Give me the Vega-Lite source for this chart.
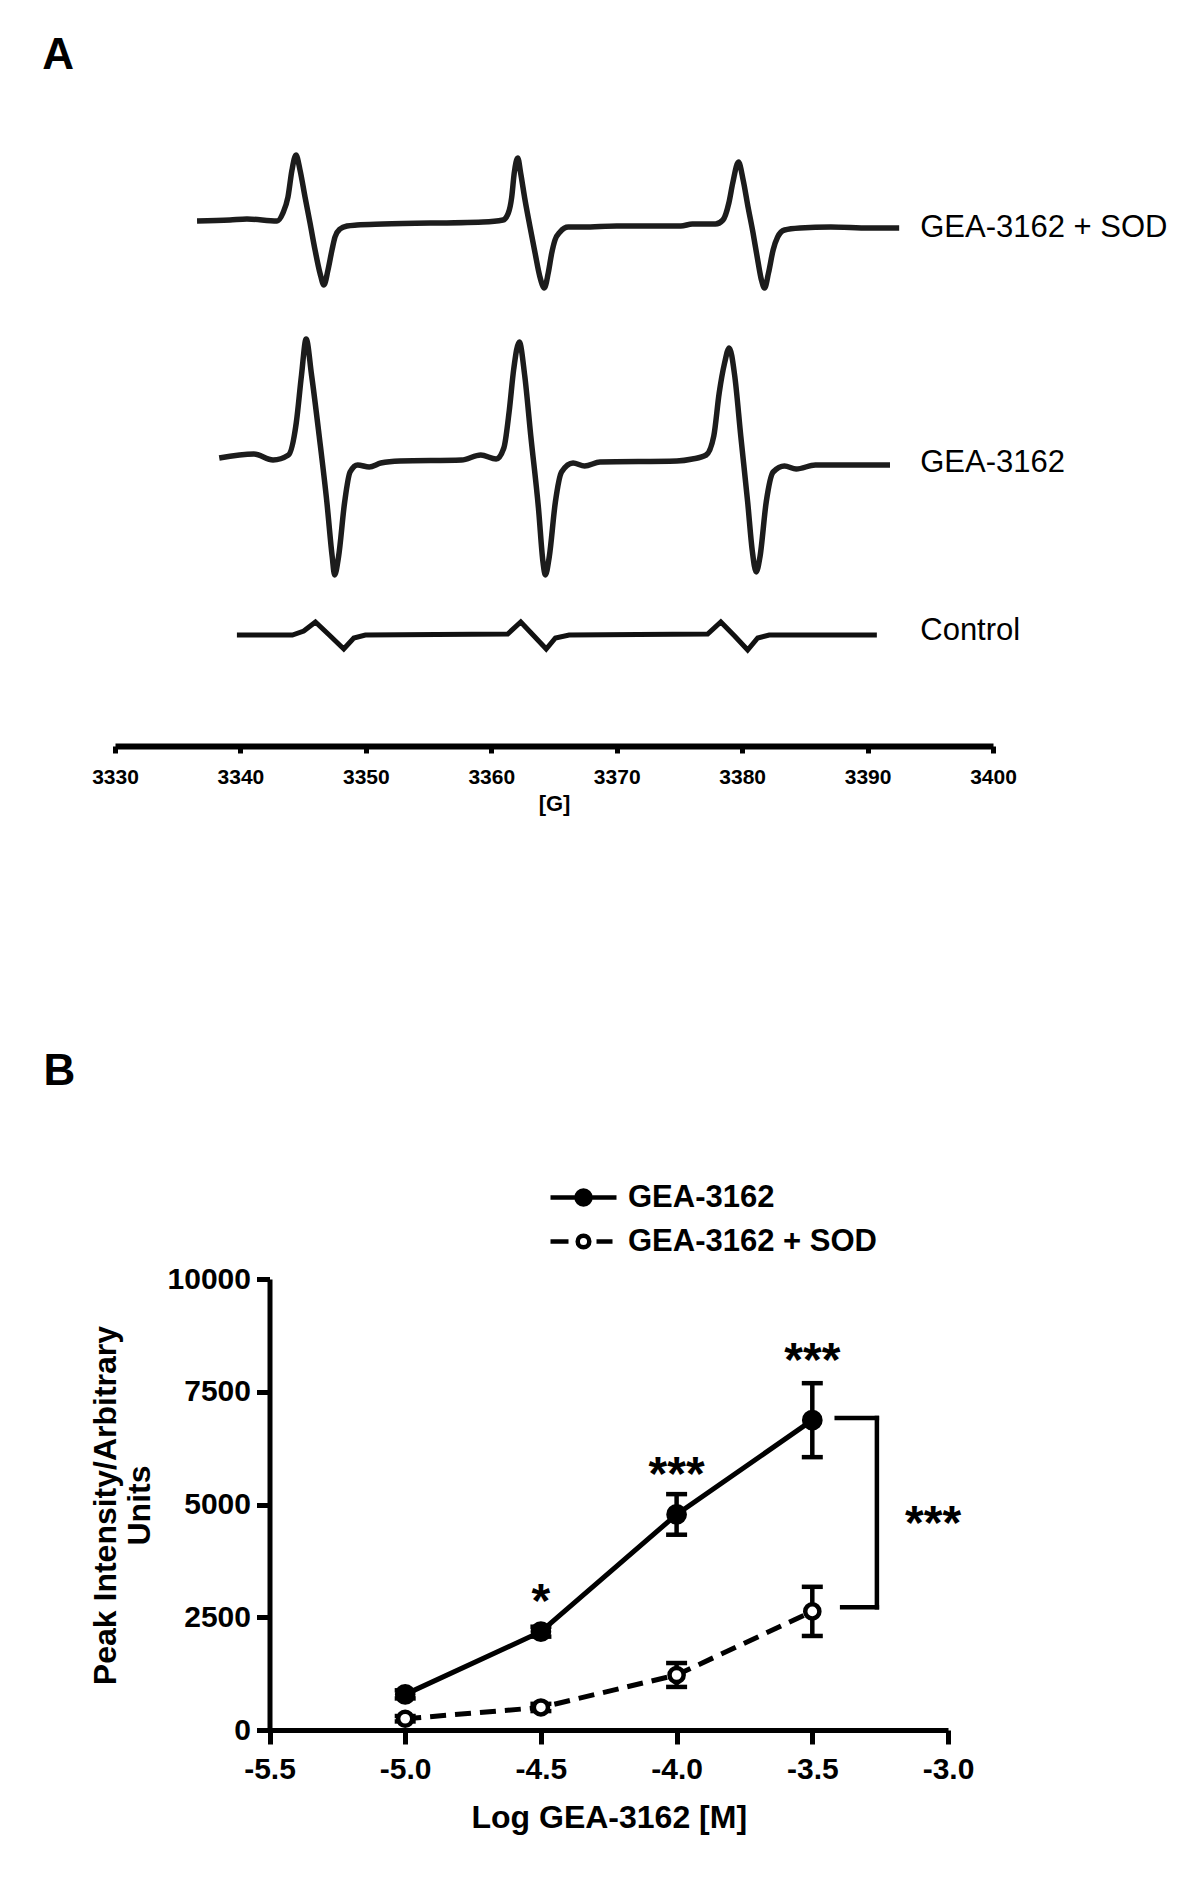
{
  "$schema": "https://vega.github.io/schema/vega-lite/v6.json",
  "width": 1200,
  "height": 1886,
  "autosize": {"type": "none"},
  "padding": 0,
  "background": "white",
  "config": {
    "view": {"stroke": null},
    "axis": {"grid": false, "domainColor": "black", "tickColor": "black", "labelColor": "black", "titleColor": "black"}
  },
  "datasets": {
    "epr": [
      {"trace": "GEA-3162 + SOD", "G": 3336.54, "v": 779},
      {"trace": "GEA-3162 + SOD", "G": 3339.17, "v": 780},
      {"trace": "GEA-3162 + SOD", "G": 3340.52, "v": 781},
      {"trace": "GEA-3162 + SOD", "G": 3342.92, "v": 779},
      {"trace": "GEA-3162 + SOD", "G": 3343.39, "v": 787},
      {"trace": "GEA-3162 + SOD", "G": 3343.79, "v": 803},
      {"trace": "GEA-3162 + SOD", "G": 3344.11, "v": 830},
      {"trace": "GEA-3162 + SOD", "G": 3344.43, "v": 845},
      {"trace": "GEA-3162 + SOD", "G": 3344.75, "v": 830},
      {"trace": "GEA-3162 + SOD", "G": 3345.15, "v": 803},
      {"trace": "GEA-3162 + SOD", "G": 3345.55, "v": 777},
      {"trace": "GEA-3162 + SOD", "G": 3345.95, "v": 750},
      {"trace": "GEA-3162 + SOD", "G": 3346.34, "v": 727},
      {"trace": "GEA-3162 + SOD", "G": 3346.66, "v": 715},
      {"trace": "GEA-3162 + SOD", "G": 3346.98, "v": 730},
      {"trace": "GEA-3162 + SOD", "G": 3347.30, "v": 750},
      {"trace": "GEA-3162 + SOD", "G": 3347.54, "v": 763},
      {"trace": "GEA-3162 + SOD", "G": 3347.94, "v": 771},
      {"trace": "GEA-3162 + SOD", "G": 3348.50, "v": 774},
      {"trace": "GEA-3162 + SOD", "G": 3349.29, "v": 775},
      {"trace": "GEA-3162 + SOD", "G": 3351.37, "v": 776},
      {"trace": "GEA-3162 + SOD", "G": 3359.34, "v": 778},
      {"trace": "GEA-3162 + SOD", "G": 3360.93, "v": 780},
      {"trace": "GEA-3162 + SOD", "G": 3361.36, "v": 787},
      {"trace": "GEA-3162 + SOD", "G": 3361.63, "v": 803},
      {"trace": "GEA-3162 + SOD", "G": 3361.83, "v": 827},
      {"trace": "GEA-3162 + SOD", "G": 3362.11, "v": 842},
      {"trace": "GEA-3162 + SOD", "G": 3362.34, "v": 827},
      {"trace": "GEA-3162 + SOD", "G": 3362.69, "v": 800},
      {"trace": "GEA-3162 + SOD", "G": 3363.09, "v": 773},
      {"trace": "GEA-3162 + SOD", "G": 3363.49, "v": 747},
      {"trace": "GEA-3162 + SOD", "G": 3363.88, "v": 723},
      {"trace": "GEA-3162 + SOD", "G": 3364.23, "v": 712},
      {"trace": "GEA-3162 + SOD", "G": 3364.54, "v": 727},
      {"trace": "GEA-3162 + SOD", "G": 3364.82, "v": 747},
      {"trace": "GEA-3162 + SOD", "G": 3365.08, "v": 760},
      {"trace": "GEA-3162 + SOD", "G": 3365.48, "v": 768},
      {"trace": "GEA-3162 + SOD", "G": 3366.14, "v": 773},
      {"trace": "GEA-3162 + SOD", "G": 3367.34, "v": 773},
      {"trace": "GEA-3162 + SOD", "G": 3370.00, "v": 774},
      {"trace": "GEA-3162 + SOD", "G": 3372.65, "v": 774},
      {"trace": "GEA-3162 + SOD", "G": 3375.11, "v": 774},
      {"trace": "GEA-3162 + SOD", "G": 3376.03, "v": 776},
      {"trace": "GEA-3162 + SOD", "G": 3377.87, "v": 776},
      {"trace": "GEA-3162 + SOD", "G": 3378.47, "v": 780},
      {"trace": "GEA-3162 + SOD", "G": 3378.94, "v": 797},
      {"trace": "GEA-3162 + SOD", "G": 3379.25, "v": 817},
      {"trace": "GEA-3162 + SOD", "G": 3379.71, "v": 838},
      {"trace": "GEA-3162 + SOD", "G": 3380.08, "v": 820},
      {"trace": "GEA-3162 + SOD", "G": 3380.47, "v": 793},
      {"trace": "GEA-3162 + SOD", "G": 3380.87, "v": 767},
      {"trace": "GEA-3162 + SOD", "G": 3381.24, "v": 740},
      {"trace": "GEA-3162 + SOD", "G": 3381.54, "v": 720},
      {"trace": "GEA-3162 + SOD", "G": 3381.79, "v": 712},
      {"trace": "GEA-3162 + SOD", "G": 3382.10, "v": 727},
      {"trace": "GEA-3162 + SOD", "G": 3382.47, "v": 750},
      {"trace": "GEA-3162 + SOD", "G": 3382.83, "v": 763},
      {"trace": "GEA-3162 + SOD", "G": 3383.38, "v": 770},
      {"trace": "GEA-3162 + SOD", "G": 3384.61, "v": 772},
      {"trace": "GEA-3162 + SOD", "G": 3387.07, "v": 773},
      {"trace": "GEA-3162 + SOD", "G": 3390.13, "v": 772},
      {"trace": "GEA-3162 + SOD", "G": 3392.52, "v": 772},
      {"trace": "GEA-3162", "G": 3338.31, "v": 542},
      {"trace": "GEA-3162", "G": 3341.07, "v": 546},
      {"trace": "GEA-3162", "G": 3342.60, "v": 540},
      {"trace": "GEA-3162", "G": 3343.83, "v": 545},
      {"trace": "GEA-3162", "G": 3344.45, "v": 577},
      {"trace": "GEA-3162", "G": 3344.87, "v": 625},
      {"trace": "GEA-3162", "G": 3345.24, "v": 661},
      {"trace": "GEA-3162", "G": 3345.67, "v": 625},
      {"trace": "GEA-3162", "G": 3346.28, "v": 564},
      {"trace": "GEA-3162", "G": 3346.89, "v": 498},
      {"trace": "GEA-3162", "G": 3347.32, "v": 443},
      {"trace": "GEA-3162", "G": 3347.51, "v": 425},
      {"trace": "GEA-3162", "G": 3347.82, "v": 443},
      {"trace": "GEA-3162", "G": 3348.31, "v": 498},
      {"trace": "GEA-3162", "G": 3348.74, "v": 528},
      {"trace": "GEA-3162", "G": 3349.35, "v": 535},
      {"trace": "GEA-3162", "G": 3350.27, "v": 533},
      {"trace": "GEA-3162", "G": 3351.19, "v": 537},
      {"trace": "GEA-3162", "G": 3352.72, "v": 539},
      {"trace": "GEA-3162", "G": 3357.63, "v": 540},
      {"trace": "GEA-3162", "G": 3359.16, "v": 545},
      {"trace": "GEA-3162", "G": 3360.39, "v": 541},
      {"trace": "GEA-3162", "G": 3361.00, "v": 552},
      {"trace": "GEA-3162", "G": 3361.43, "v": 589},
      {"trace": "GEA-3162", "G": 3361.79, "v": 631},
      {"trace": "GEA-3162", "G": 3362.23, "v": 658},
      {"trace": "GEA-3162", "G": 3362.66, "v": 625},
      {"trace": "GEA-3162", "G": 3363.15, "v": 564},
      {"trace": "GEA-3162", "G": 3363.76, "v": 492},
      {"trace": "GEA-3162", "G": 3364.13, "v": 437},
      {"trace": "GEA-3162", "G": 3364.31, "v": 425},
      {"trace": "GEA-3162", "G": 3364.62, "v": 443},
      {"trace": "GEA-3162", "G": 3365.11, "v": 498},
      {"trace": "GEA-3162", "G": 3365.60, "v": 528},
      {"trace": "GEA-3162", "G": 3366.52, "v": 537},
      {"trace": "GEA-3162", "G": 3367.44, "v": 534},
      {"trace": "GEA-3162", "G": 3368.67, "v": 538},
      {"trace": "GEA-3162", "G": 3374.80, "v": 539},
      {"trace": "GEA-3162", "G": 3376.03, "v": 541},
      {"trace": "GEA-3162", "G": 3377.13, "v": 545},
      {"trace": "GEA-3162", "G": 3377.74, "v": 564},
      {"trace": "GEA-3162", "G": 3378.17, "v": 607},
      {"trace": "GEA-3162", "G": 3378.60, "v": 637},
      {"trace": "GEA-3162", "G": 3378.97, "v": 652},
      {"trace": "GEA-3162", "G": 3379.40, "v": 625},
      {"trace": "GEA-3162", "G": 3379.89, "v": 564},
      {"trace": "GEA-3162", "G": 3380.44, "v": 498},
      {"trace": "GEA-3162", "G": 3380.81, "v": 449},
      {"trace": "GEA-3162", "G": 3381.12, "v": 428},
      {"trace": "GEA-3162", "G": 3381.42, "v": 443},
      {"trace": "GEA-3162", "G": 3381.92, "v": 498},
      {"trace": "GEA-3162", "G": 3382.47, "v": 528},
      {"trace": "GEA-3162", "G": 3383.38, "v": 534},
      {"trace": "GEA-3162", "G": 3384.31, "v": 531},
      {"trace": "GEA-3162", "G": 3385.84, "v": 535},
      {"trace": "GEA-3162", "G": 3391.79, "v": 535},
      {"trace": "Control", "G": 3339.72, "v": 365},
      {"trace": "Control", "G": 3344.14, "v": 365},
      {"trace": "Control", "G": 3345.05, "v": 369},
      {"trace": "Control", "G": 3345.98, "v": 378},
      {"trace": "Control", "G": 3347.08, "v": 365},
      {"trace": "Control", "G": 3348.24, "v": 351},
      {"trace": "Control", "G": 3349.04, "v": 362},
      {"trace": "Control", "G": 3349.96, "v": 365},
      {"trace": "Control", "G": 3361.31, "v": 366},
      {"trace": "Control", "G": 3362.35, "v": 378},
      {"trace": "Control", "G": 3363.33, "v": 365},
      {"trace": "Control", "G": 3364.38, "v": 351},
      {"trace": "Control", "G": 3365.11, "v": 362},
      {"trace": "Control", "G": 3366.21, "v": 365},
      {"trace": "Control", "G": 3377.25, "v": 366},
      {"trace": "Control", "G": 3378.30, "v": 378},
      {"trace": "Control", "G": 3379.40, "v": 364},
      {"trace": "Control", "G": 3380.44, "v": 350},
      {"trace": "Control", "G": 3381.24, "v": 362},
      {"trace": "Control", "G": 3382.16, "v": 365},
      {"trace": "Control", "G": 3390.74, "v": 365}
    ],
    "eprlabels": [
      {"label": "GEA-3162 + SOD", "G": 3394.2, "v": 772},
      {"label": "GEA-3162", "G": 3394.2, "v": 537},
      {"label": "Control", "G": 3394.2, "v": 369}
    ],
    "panels": [
      {"label": "A", "G": 3324.2, "v": 931},
      {"label": "B", "G": 3324.3, "v": -85}
    ],
    "b": [
      {"series": "GEA-3162", "logc": -5.0, "mean": 790, "sd": 90},
      {"series": "GEA-3162", "logc": -4.5, "mean": 2180, "sd": 110},
      {"series": "GEA-3162", "logc": -4.0, "mean": 4780, "sd": 450},
      {"series": "GEA-3162", "logc": -3.5, "mean": 6870, "sd": 820},
      {"series": "GEA-3162 + SOD", "logc": -5.0, "mean": 250, "sd": 60},
      {"series": "GEA-3162 + SOD", "logc": -4.5, "mean": 500, "sd": 80},
      {"series": "GEA-3162 + SOD", "logc": -4.0, "mean": 1220, "sd": 265},
      {"series": "GEA-3162 + SOD", "logc": -3.5, "mean": 2630, "sd": 545}
    ],
    "bnotes": [
      {"t": "*", "logc": -4.5, "y": 2516},
      {"t": "***", "logc": -4.0, "y": 5332},
      {"t": "***", "logc": -3.5, "y": 7859},
      {"t": "***", "logc": -3.055, "y": 4230}
    ],
    "bracket": [
      {"x": -3.41, "x2": -3.262, "y": 6917, "y2": 6917},
      {"x": -3.262, "x2": -3.262, "y": 2722, "y2": 6917},
      {"x": -3.39, "x2": -3.262, "y": 2722, "y2": 2722}
    ]
  },
  "layer": [
    {
      "data": {"name": "epr"},
      "transform": [{"filter": "datum.trace !== 'Control'"}],
      "mark": {"type": "line", "interpolate": "monotone", "strokeWidth": 5.5, "color": "#1c1c1c"},
      "encoding": {
        "x": {"field": "G", "type": "quantitative",
          "scale": {"domain": [3330, 3400], "range": [115, 993], "nice": false, "zero": false},
          "axis": {"orient": "bottom", "offset": -1140, "values": [3330, 3340, 3350, 3360, 3370, 3380, 3390, 3400], "format": "d",
            "title": "[G]", "titleFont": "Liberation Sans, Arial", "titleFontWeight": "bold", "titleFontSize": 22, "titlePadding": 6,
            "labelFont": "Liberation Sans, Arial", "labelFontWeight": "bold", "labelFontSize": 21, "labelPadding": 13,
            "tickSize": 7, "tickWidth": 5, "domainWidth": 6, "labelFlush": false, "labelOverlap": false}},
        "y": {"field": "v", "type": "quantitative", "scale": {"domain": [0, 1000], "range": [1000, 0], "nice": false, "zero": false}, "axis": null},
        "detail": {"field": "trace", "type": "nominal"}
      }
    },
    {
      "data": {"name": "epr"},
      "transform": [{"filter": "datum.trace === 'Control'"}],
      "mark": {"type": "line", "interpolate": "linear", "strokeWidth": 5, "color": "#111111"},
      "encoding": {
        "x": {"field": "G", "type": "quantitative", "scale": {"domain": [3330, 3400], "range": [115, 993], "nice": false, "zero": false}, "axis": null},
        "y": {"field": "v", "type": "quantitative", "scale": {"domain": [0, 1000], "range": [1000, 0], "nice": false, "zero": false}, "axis": null}
      }
    },
    {
      "data": {"name": "eprlabels"},
      "mark": {"type": "text", "align": "left", "baseline": "middle", "font": "Liberation Sans, Arial", "fontSize": 31, "color": "black"},
      "encoding": {
        "x": {"field": "G", "type": "quantitative", "scale": {"domain": [3330, 3400], "range": [115, 993], "nice": false, "zero": false}, "axis": null},
        "y": {"field": "v", "type": "quantitative", "scale": {"domain": [0, 1000], "range": [1000, 0], "nice": false, "zero": false}, "axis": null},
        "text": {"field": "label"}
      }
    },
    {
      "data": {"name": "panels"},
      "mark": {"type": "text", "align": "left", "baseline": "alphabetic", "font": "Liberation Sans, Arial", "fontWeight": "bold", "fontSize": 44, "color": "black"},
      "encoding": {
        "x": {"field": "G", "type": "quantitative", "scale": {"domain": [3330, 3400], "range": [115, 993], "nice": false, "zero": false}, "axis": null},
        "y": {"field": "v", "type": "quantitative", "scale": {"domain": [0, 1000], "range": [1000, 0], "nice": false, "zero": false}, "axis": null},
        "text": {"field": "label"}
      }
    },
    {
      "data": {"name": "b"},
      "transform": [{"filter": "datum.series === 'GEA-3162'"}],
      "mark": {"type": "line", "strokeWidth": 5, "color": "black"},
      "encoding": {
        "x": {"field": "logc", "type": "quantitative",
          "scale": {"domain": [-5.5, -3.0], "range": [269.5, 948], "nice": false, "zero": false},
          "axis": {"orient": "bottom", "offset": -156, "values": [-5.5, -5.0, -4.5, -4.0, -3.5, -3.0],
            "labelExpr": "replace(format(datum.value, '.1f'), '−', '-')",
            "title": "Log GEA-3162 [M]", "titleFont": "Liberation Sans, Arial", "titleFontWeight": "bold", "titleFontSize": 32, "titlePadding": 18,
            "labelFont": "Liberation Sans, Arial", "labelFontWeight": "bold", "labelFontSize": 30, "labelPadding": 10,
            "tickSize": 14, "tickWidth": 5, "domainWidth": 5, "labelFlush": false, "labelOverlap": false}},
        "y": {"field": "mean", "type": "quantitative",
          "scale": {"domain": [0, 10000], "range": [1730, 1279], "nice": false, "zero": false},
          "axis": {"orient": "left", "offset": -269.5, "values": [0, 2500, 5000, 7500, 10000], "format": "d",
            "title": ["Peak Intensity/Arbitrary", "Units"], "titleFont": "Liberation Sans, Arial", "titleFontWeight": "bold", "titleFontSize": 32,
            "titleLineHeight": 34, "titleAngle": -90, "titleX": -164, "titleY": 1505, "titleBaseline": "middle", "titleAlign": "center",
            "labelFont": "Liberation Sans, Arial", "labelFontWeight": "bold", "labelFontSize": 30, "labelPadding": 6,
            "tickSize": 13, "tickWidth": 5, "domainWidth": 5, "labelOverlap": false}}
      }
    },
    {
      "data": {"name": "b"},
      "transform": [{"filter": "datum.series === 'GEA-3162 + SOD'"}],
      "mark": {"type": "line", "strokeWidth": 5, "color": "black", "strokeDash": [16, 9]},
      "encoding": {
        "x": {"field": "logc", "type": "quantitative", "scale": {"domain": [-5.5, -3.0], "range": [269.5, 948], "nice": false, "zero": false}, "axis": null},
        "y": {"field": "mean", "type": "quantitative", "scale": {"domain": [0, 10000], "range": [1730, 1279], "nice": false, "zero": false}, "axis": null}
      }
    },
    {
      "data": {"name": "b"},
      "mark": {"type": "errorbar", "ticks": {"size": 21, "thickness": 4.5, "color": "black", "opacity": 1}, "rule": {"strokeWidth": 4.5, "color": "black", "opacity": 1}},
      "encoding": {
        "x": {"field": "logc", "type": "quantitative", "scale": {"domain": [-5.5, -3.0], "range": [269.5, 948], "nice": false, "zero": false}, "axis": null},
        "y": {"field": "mean", "type": "quantitative", "scale": {"domain": [0, 10000], "range": [1730, 1279], "nice": false, "zero": false}, "axis": null},
        "yError": {"field": "sd"}
      }
    },
    {
      "data": {"name": "b"},
      "transform": [{"filter": "datum.series === 'GEA-3162'"}],
      "mark": {"type": "point", "shape": "circle", "filled": true, "fill": "black", "stroke": "black", "strokeWidth": 4, "size": 280, "opacity": 1},
      "encoding": {
        "x": {"field": "logc", "type": "quantitative", "scale": {"domain": [-5.5, -3.0], "range": [269.5, 948], "nice": false, "zero": false}, "axis": null},
        "y": {"field": "mean", "type": "quantitative", "scale": {"domain": [0, 10000], "range": [1730, 1279], "nice": false, "zero": false}, "axis": null}
      }
    },
    {
      "data": {"name": "b"},
      "transform": [{"filter": "datum.series === 'GEA-3162 + SOD'"}],
      "mark": {"type": "point", "shape": "circle", "filled": true, "fill": "white", "stroke": "black", "strokeWidth": 4.5, "size": 200, "opacity": 1},
      "encoding": {
        "x": {"field": "logc", "type": "quantitative", "scale": {"domain": [-5.5, -3.0], "range": [269.5, 948], "nice": false, "zero": false}, "axis": null},
        "y": {"field": "mean", "type": "quantitative", "scale": {"domain": [0, 10000], "range": [1730, 1279], "nice": false, "zero": false}, "axis": null}
      }
    },
    {
      "data": {"name": "bracket"},
      "mark": {"type": "rule", "strokeWidth": 4.5, "color": "black", "strokeCap": "square"},
      "encoding": {
        "x": {"field": "x", "type": "quantitative", "scale": {"domain": [-5.5, -3.0], "range": [269.5, 948], "nice": false, "zero": false}, "axis": null},
        "x2": {"field": "x2"},
        "y": {"field": "y", "type": "quantitative", "scale": {"domain": [0, 10000], "range": [1730, 1279], "nice": false, "zero": false}, "axis": null},
        "y2": {"field": "y2"}
      }
    },
    {
      "data": {"name": "bnotes"},
      "mark": {"type": "text", "align": "center", "baseline": "alphabetic", "font": "Liberation Sans, Arial", "fontWeight": "bold", "fontSize": 48, "color": "black"},
      "encoding": {
        "x": {"field": "logc", "type": "quantitative", "scale": {"domain": [-5.5, -3.0], "range": [269.5, 948], "nice": false, "zero": false}, "axis": null},
        "y": {"field": "y", "type": "quantitative", "scale": {"domain": [0, 10000], "range": [1730, 1279], "nice": false, "zero": false}, "axis": null},
        "text": {"field": "t"}
      }
    },
    {
      "data": {"name": "b"},
      "transform": [{"filter": "false"}],
      "mark": {"type": "point", "color": "black", "stroke": "black", "strokeWidth": 4.5},
      "encoding": {
        "x": {"field": "logc", "type": "quantitative", "scale": {"domain": [-5.5, -3.0], "range": [269.5, 948], "nice": false, "zero": false}, "axis": null},
        "y": {"field": "mean", "type": "quantitative", "scale": {"domain": [0, 10000], "range": [1730, 1279], "nice": false, "zero": false}, "axis": null},
        "shape": {"field": "series", "type": "nominal",
          "scale": {"domain": ["GEA-3162", "GEA-3162 + SOD"], "range": ["M-3.3,0H3.3M-0.7,0A0.7,0.7,0,1,0,0.7,0A0.7,0.7,0,1,0,-0.7,0Z", "M-3.3,0H-1.5M1.3,0H2.9M-0.58,0A0.58,0.58,0,1,0,0.58,0A0.58,0.58,0,1,0,-0.58,0Z"]},
          "legend": {"orient": "none", "legendX": 568, "legendY": 1182, "title": null, "symbolSize": 400, "symbolStrokeWidth": 4.5, "symbolOpacity": 1,
            "labelFont": "Liberation Sans, Arial", "labelFontWeight": "bold", "labelFontSize": 31, "labelColor": "black", "labelOffset": 29, "rowPadding": 11, "labelLimit": 400}},
        "fill": {"field": "series", "type": "nominal",
          "scale": {"domain": ["GEA-3162", "GEA-3162 + SOD"], "range": ["black", "white"]},
          "legend": {"orient": "none", "legendX": 568, "legendY": 1182, "title": null, "symbolSize": 400, "symbolStrokeWidth": 4.5, "symbolOpacity": 1,
            "labelFont": "Liberation Sans, Arial", "labelFontWeight": "bold", "labelFontSize": 31, "labelColor": "black", "labelOffset": 29, "rowPadding": 11, "labelLimit": 400}}
      }
    }
  ],
  "resolve": {"scale": {"x": "independent", "y": "independent"}}
}
